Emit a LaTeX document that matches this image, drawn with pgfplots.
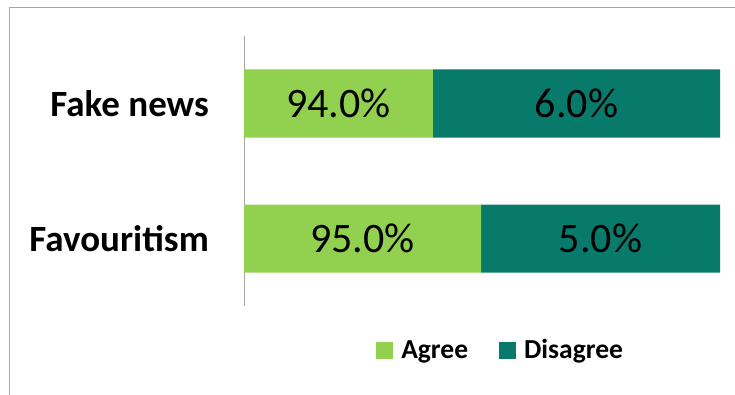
\documentclass[border=0pt]{standalone}
\usepackage{pgfplots}
\pgfplotsset{compat=1.18}
\usepackage{fontspec}
\setmainfont{Carlito}
\definecolor{agree}{HTML}{92D050}
\definecolor{disagree}{HTML}{077A6C}
\definecolor{framegray}{HTML}{A6A6A6}
\begin{document}
\begin{tikzpicture}
\path[use as bounding box] (0pt,0pt) rectangle (735pt,-395pt);
\draw[framegray, line width=1pt] (9pt,-396pt) -- (9pt,-8pt) -- (736pt,-8pt);
\begin{axis}[
  at={(244pt,-306pt)}, anchor=south west,
  scale only axis, width=476pt, height=270pt,
  xbar stacked, bar width=68pt,
  xmin=0, xmax=100, ymin=-0.5, ymax=1.5,
  axis x line=none,
  axis y line=left,
  y axis line style={framegray, line width=1pt, -},
  ytick={0,1}, yticklabels={Favouritism, Fake news},
  major tick length=0pt,
  yticklabel style={font=\fontsize{37}{37}\selectfont\bfseries, inner sep=0pt, xshift=-35pt},
  clip=false,
  legend columns=2,
  legend style={draw=none, fill=none, at={(0.537,-0.163)}, anchor=center,
    font=\fontsize{27.5}{27.5}\selectfont\bfseries,
    nodes={inner sep=0pt},
    /tikz/every odd column/.append style={column sep=8pt},
    /tikz/every even column/.append style={column sep=31pt}},
  legend image code/.code={\path[#1, draw=none] (0pt,-8.5pt) rectangle (17pt,8.5pt);},
]
\addplot[fill=agree, draw=none] coordinates {(49.8,0) (39.7,1)};
\addplot[fill=disagree, draw=none] coordinates {(50.2,0) (60.3,1)};
\legend{Agree, Disagree}
\end{axis}
\begin{axis}[
  at={(244pt,-306pt)}, anchor=south west,
  scale only axis, width=476pt, height=270pt,
  xmin=0, xmax=100, ymin=-0.5, ymax=1.5,
  hide axis, clip=false,
]
\addplot[only marks, mark=none, point meta=explicit symbolic,
  nodes near coords, nodes near coords align=center,
  every node near coord/.style={anchor=center, font=\fontsize{42}{42}\selectfont, text=black}]
  coordinates {(19.85,1) [94.0\%] (69.85,1) [6.0\%] (24.9,0) [95.0\%] (74.9,0) [5.0\%]};
\end{axis}
\end{tikzpicture}
\end{document}
